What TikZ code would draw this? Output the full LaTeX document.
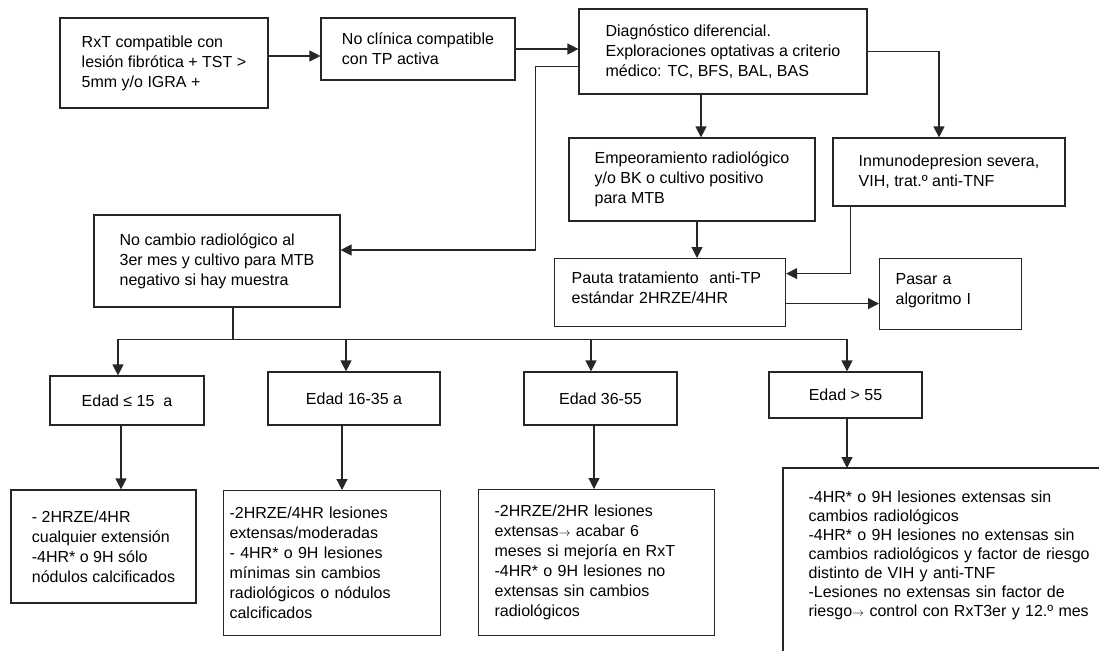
\documentclass[tikz,border=0pt]{standalone}
\usepackage{fontspec}
\setmainfont{Liberation Sans}
\usetikzlibrary{arrows.meta,positioning}

\begin{document}
\begin{tikzpicture}[x=1pt,y=-1pt,
        box/.style={draw=black!85,line width=1.2pt,align=left,
                    font=\fontsize{16}{20}\selectfont,inner sep=0pt},
        tbox/.style={box,anchor=north west},
        arr/.style={-{Triangle[length=11pt,width=11pt]},draw=black!85,line width=1.2pt},
        lin/.style={draw=black!85,line width=1.2pt}
      ]
        \useasboundingbox (0,0) rectangle (1099,650);
        % fila superior
        \node[box,minimum width=208pt,minimum height=90pt] (rxt) at (164,63) {RxT compatible con\\lesión fibrótica + TST >\\5mm y/o IGRA +};
        \node[box,minimum width=194pt,minimum height=62pt] (nocl) at (418,49) {No clínica compatible\\con TP activa};
        \node[box,minimum width=288pt,minimum height=85pt] (diag) at (723,51.5) {Diagnóstico diferencial.\\Exploraciones optativas a criterio\\médico: TC, BFS, BAL, BAS};
        \node[box,minimum width=246pt,minimum height=83pt] (empeo) at (692,179.5) {Empeoramiento radiológico\\y/o BK o cultivo positivo\\para MTB};
        \node[box,minimum width=232pt,minimum height=68pt] (inmu) at (949,172) {Inmunodepresion severa,\\VIH, trat.º anti-TNF};
        \node[box,minimum width=246pt,minimum height=92pt] (nocamb) at (217,261) {No cambio radiológico al\\3er mes y cultivo para MTB\\negativo si hay muestra};
        \node[tbox,inner xsep=17pt,text width=197pt,text depth=30pt,minimum height=68pt] (pauta) at (554,258) {Pauta tratamiento\ \ anti-TP\\estándar 2HRZE/4HR};
        \node[tbox,inner xsep=16pt,text width=110pt,text depth=30pt,minimum height=71pt] (pasar) at (879,258) {Pasar a\\algoritmo I};
        % edades
        \node[box,minimum width=154pt,minimum height=49pt] (e15) at (127,400.5) {Edad ≤ 15\ \ a};
        \node[box,minimum width=172pt,minimum height=53pt] (e16) at (354,398.5) {Edad 16-35 a};
        \node[box,minimum width=153pt,minimum height=53pt] (e36) at (600.5,398.5) {Edad 36-55};
        \node[box,minimum width=153pt,minimum height=46pt] (e55) at (845.5,395) {Edad > 55};
        % pautas por edad
        \node[box,minimum width=185pt,minimum height=113pt] (r15) at (103.5,546.5) {- 2HRZE/4HR\\cualquier extensión\\-4HR* o 9H sólo\\nódulos calcificados};
        \node[tbox,inner xsep=6pt,text width=205pt,minimum height=145pt] (r16) at (223,490) {-2HRZE/4HR lesiones\\extensas/moderadas\\- 4HR* o 9H lesiones\\mínimas sin cambios\\radiológicos o nódulos\\calcificados};
        \node[tbox,inner xsep=16pt,text width=204pt,minimum height=146pt] (r36) at (478,489) {-2HRZE/2HR lesiones\\extensas{\fontsize{13}{13}\selectfont$\rightarrow$} acabar 6\\meses si mejoría en RxT\\-4HR* o 9H lesiones no\\extensas sin cambios\\radiológicos};
        \node[tbox,draw=none,inner xsep=25pt,inner ysep=22pt,text width=300pt,font=\fontsize{16}{19}\selectfont] (r55) at (783,468) {-4HR* o 9H lesiones extensas sin\\cambios radiológicos\\-4HR* o 9H lesiones no extensas sin\\cambios radiológicos y factor de riesgo\\distinto de VIH y anti-TNF\\-Lesiones no extensas sin factor de\\riesgo{\fontsize{13}{13}\selectfont$\rightarrow$} control con RxT3er y 12.º mes};
        \draw[lin] ([yshift=-60pt]r55.south west) |- ([xshift=20pt]r55.north east);
        % conectores
        \draw[arr] ([yshift=7pt]rxt.east) -- ([yshift=7pt]rxt.east -| nocl.west);
        \draw[arr] (nocl.east) -- (nocl.east -| diag.west);
        \draw[arr] ([yshift=-15pt]diag.west) -- ++(-43,0) |- ([yshift=11pt]nocamb.east);
        \draw[arr] ([xshift=9pt]empeo.north |- diag.south) -- ([xshift=9pt]empeo.north);
        \draw[arr] (diag.east) -| ([xshift=-10pt]inmu.north);
        \draw[arr] ([xshift=5pt]empeo.south) -- ([xshift=5pt]empeo.south |- pauta.north);
        \draw[arr] ([xshift=18pt]inmu.south west) |- ([yshift=19pt]pauta.east);
        \draw[arr] ([yshift=-11pt]pauta.east) -- ([yshift=-11pt]pauta.east -| pasar.west);
        \coordinate (bus) at ([xshift=16pt,yshift=-32pt]nocamb.south);
        \draw[lin] ([xshift=16pt]nocamb.south) -- (bus);
        \draw[arr] (bus) -| ([xshift=-9pt]e15.north);
        \draw[arr] (bus) -| ([xshift=-8pt]e16.north);
        \draw[arr] (bus) -| ([xshift=-9.5pt]e36.north);
        \draw[arr] (bus) -| ([xshift=1.5pt]e55.north);
        \draw[arr] ([xshift=-6pt]e15.south) -- ([xshift=-6pt]e15.south |- r15.north);
        \draw[arr] ([xshift=-12pt]e16.south) -- ([xshift=-12pt]e16.south |- r16.north);
        \draw[arr] ([xshift=-6.5pt]e36.south) -- ([xshift=-6.5pt]e36.south |- r36.north);
        \draw[arr] ([xshift=1.5pt]e55.south) -- ([xshift=1.5pt]e55.south |- r55.north);
      \end{tikzpicture}
\end{document}
